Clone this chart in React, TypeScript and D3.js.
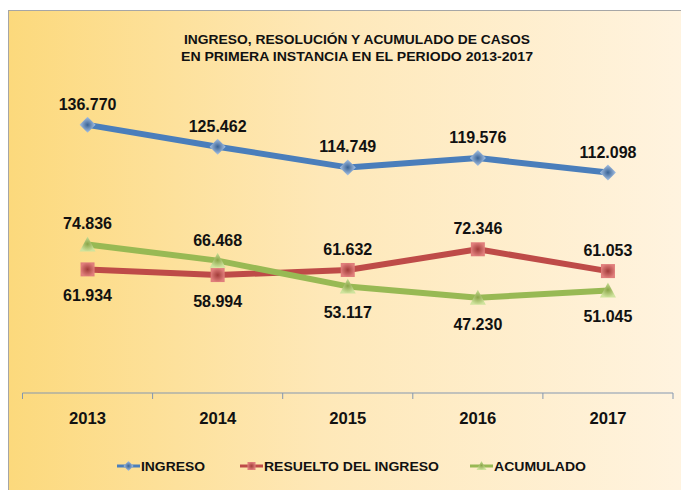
import React from "react";
import * as d3 from "d3";

const years = ["2013", "2014", "2015", "2016", "2017"];
const ingreso = [136770, 125462, 114749, 119576, 112098];
const resuelto = [61934, 58994, 61632, 72346, 61053];
const acumulado = [74836, 66468, 53117, 47230, 51045];
// label placement: -1 above, 1 below
const ingresoPos = [-1, -1, -1, -1, -1];
const resueltoPos = [1, 1, -1, -1, -1];
const acumuladoPos = [-1, -1, 1, 1, 1];
const titleLines = [
  "INGRESO, RESOLUCIÓN Y ACUMULADO DE CASOS",
  "EN PRIMERA INSTANCIA  EN EL PERIODO 2013-2017",
];
const legendNames = ["INGRESO", "RESUELTO DEL INGRESO", "ACUMULADO"];

const W = 681;
const H = 490;

const fmt = (v: number) => d3.format(",")(v).replace(/,/g, ".");

export default function App() {
  const x = d3.scaleBand<string>().domain(years).range([22.5, 673]).padding(0);
  const y = d3.scaleLinear().domain([0, 160000]).range([389, 80]);
  const cx = (d: string) => (x(d) as number) + x.bandwidth() / 2;

  const series = [
    { name: legendNames[0], values: ingreso, pos: ingresoPos, color: "#4A7EBB", shape: "diamond" },
    { name: legendNames[1], values: resuelto, pos: resueltoPos, color: "#BE4B48", shape: "square" },
    { name: legendNames[2], values: acumulado, pos: acumuladoPos, color: "#98B954", shape: "triangle" },
  ];

  const line = d3
    .line<number>()
    .x((_, i) => cx(years[i]))
    .y((v) => y(v));

  const marker = (shape: string, px: number, py: number, key: string, s = 7, blur = true) => {
    const f = blur ? "url(#soft)" : undefined;
    if (shape === "diamond") {
      return (
        <path key={key} d={`M${px},${py - s - 1}L${px + s + 1},${py}L${px},${py + s + 1}L${px - s - 1},${py}Z`}
          fill={`url(#g-${shape})`} filter={f} />
      );
    }
    if (shape === "square") {
      return <rect key={key} x={px - s} y={py - s} width={2 * s} height={2 * s} fill={`url(#g-${shape})`} filter={f} />;
    }
    return (
      <path key={key} d={`M${px},${py - s - 1}L${px + s + 1},${py + s}L${px - s - 1},${py + s}Z`}
        fill={`url(#g-${shape})`} filter={f} />
    );
  };

  const axisY = 393;
  const ticks = d3.range(years.length + 1).map((i) => 22.5 + i * x.bandwidth());

  const legendItems = [
    { x: 117, textW: 64 },
    { x: 240, textW: 175 },
    { x: 470, textW: 92 },
  ];

  return (
    <svg width={W} height={H} style={{ position: "absolute", left: 0, top: 0 }}
      fontFamily="'Liberation Sans', Arial, sans-serif">
      <defs>
        <linearGradient id="bg" x1="0" x2="1" y1="0" y2="0">
          <stop offset="0" stopColor="#FCD97C" />
          <stop offset="0.45" stopColor="#FEE8B8" />
          <stop offset="1" stopColor="#FFF4E2" />
        </linearGradient>
        <radialGradient id="g-diamond">
          <stop offset="0" stopColor="#3A6395" />
          <stop offset="1" stopColor="#A9C4E6" />
        </radialGradient>
        <radialGradient id="g-square">
          <stop offset="0" stopColor="#A23C3A" />
          <stop offset="1" stopColor="#E07E7B" />
        </radialGradient>
        <radialGradient id="g-triangle">
          <stop offset="0" stopColor="#8AA548" />
          <stop offset="1" stopColor="#CFE39D" />
        </radialGradient>
        <filter id="soft" x="-30%" y="-30%" width="160%" height="160%">
          <feGaussianBlur stdDeviation="0.7" />
        </filter>
      </defs>
      <rect x={0} y={0} width={W} height={H} fill="#fff" />
      <rect x={8.5} y={10.5} width={700} height={500} fill="url(#bg)" stroke="#A6A6A6" strokeWidth={1} />

      {titleLines.map((t, i) => (
        <text key={t} x={357} y={44 + i * 17} textAnchor="middle" fontSize={13} fontWeight="bold"
          fill="#111" textLength={i === 0 ? 346 : 352} lengthAdjust="spacingAndGlyphs">
          {t}
        </text>
      ))}

      <line x1={22.5} x2={673} y1={axisY} y2={axisY} stroke="#8497B0" strokeWidth={1} />
      {ticks.map((t, i) => (
        <line key={i} x1={t} x2={t} y1={axisY} y2={axisY + 6} stroke="#8497B0" strokeWidth={1} />
      ))}
      {years.map((yr) => (
        <text key={yr} x={cx(yr)} y={424} textAnchor="middle" fontSize={17} fontWeight="bold" fill="#111"
          textLength={37} lengthAdjust="spacingAndGlyphs">
          {yr}
        </text>
      ))}

      {series.map((s) => (
        <path key={s.name} d={line(s.values) as string} fill="none" stroke={s.color} strokeWidth={6}
          strokeLinejoin="round" />
      ))}
      {series.map((s) =>
        s.values.map((v, i) => marker(s.shape, cx(years[i]), y(v), s.name + i))
      )}
      {series.map((s) =>
        s.values.map((v, i) => (
          <text key={"l" + s.name + i} x={cx(years[i])} y={y(v) + (s.pos[i] < 0 ? -15 : 32)}
            textAnchor="middle" fontSize={16} fontWeight="bold" fill="#111">
            {fmt(v)}
          </text>
        ))
      )}

      {series.map((s, i) => {
        const lx = legendItems[i].x;
        return (
          <g key={"lg" + i}>
            <line x1={lx} x2={lx + 23} y1={466} y2={466} stroke={s.color} strokeWidth={3} />
            {marker(s.shape, lx + 11.5, 466, "lm" + i, 4, false)}
            <text x={lx + 24} y={471} fontSize={13} fontWeight="bold" fill="#111"
              textLength={legendItems[i].textW} lengthAdjust="spacingAndGlyphs">
              {s.name}
            </text>
          </g>
        );
      })}
    </svg>
  );
}
